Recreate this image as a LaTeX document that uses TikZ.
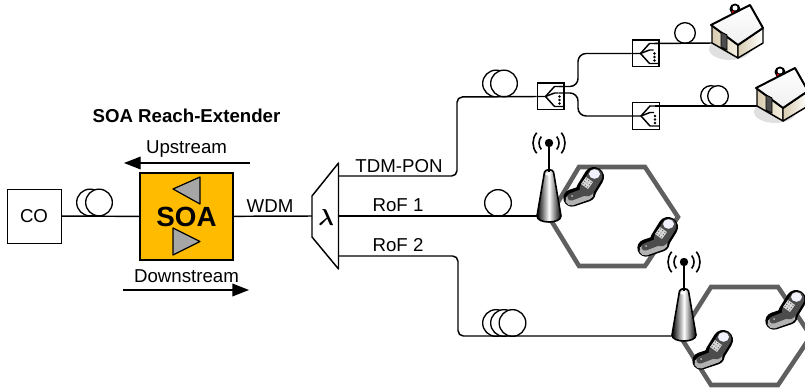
\documentclass[tikz,border=0pt]{standalone}
\usepackage{amsmath}
\usepackage{fontspec}
\setmainfont{Liberation Sans}
\usetikzlibrary{arrows.meta}
\definecolor{soaorange}{HTML}{FFBB00}
\definecolor{hexgray}{HTML}{5F5F5F}
\definecolor{wallbeige}{HTML}{D8CCB0}
\definecolor{wallcream}{HTML}{F6F0E2}

\tikzset{
  fiber/.style={line width=1.1pt, line join=round},
  flow/.style={line width=1pt, -{Triangle[length=12.5pt,width=9.5pt]}},
  label/.style={font=\fontsize{14}{16}\selectfont, inner sep=0pt},
  boxlabel/.style={draw, line width=.7pt, font=\fontsize{14}{16}\selectfont},
  coil/.style={circle, draw, fill=white, line width=1pt, minimum size=20pt, inner sep=0pt},
  smallcoil/.style={coil, minimum size=15.5pt},
  splitbox/.style={draw, line width=1pt, minimum size=20pt, inner sep=0pt},
  hexcell/.style={draw=hexgray, line width=3.4pt, line join=miter},
  house/.pic={
    \fill[black!12] (18,6) ellipse (21 and 11);
    \fill[black] (23,-34) circle (5.5);
    \fill[white] (23,-35) circle (2.5);
    \fill[red!80!black] (21,-31) circle (1.7);
    \draw[line width=1.1pt, line join=round, left color=wallbeige, right color=wallcream]
      (0,-18) -- (26,2) -- (26,15) -- (0,0) -- cycle;
    \draw[line width=1.1pt, line join=round, left color=wallbeige, right color=white]
      (26,2) -- (51,-15) -- (51,0) -- (26,15) -- cycle;
    \draw[line width=1.5pt, line join=round, top color=white, bottom color=black!6]
      (-1,-18) -- (38,-38) -- (51,-15) -- (26,2) -- cycle;
    \draw[line width=.7pt, fill=black!70] (9,-11) -- (15,-8) -- (15,7) -- (9,4) -- cycle;
  },
  antenna/.pic={
    \draw[line width=1.2pt, line join=round, left color=black, right color=black, middle color=white]
      (-4.5,29) -- (-12,73) .. controls (-12,81) and (12,81) .. (12,73) -- (4.5,29) .. controls (4,26) and (-4,26) .. cycle;
    \fill[white] (-1,31) ellipse (2.5 and 1.5);
    \draw[line width=1.7pt] (0,0) -- (0,29);
    \fill (0,0) circle (4.2);
    \foreach \r in {10,16} {
      \draw[line width=1.2pt] (140:\r) arc (140:220:\r);
      \draw[line width=1.2pt] (-40:\r) arc (-40:40:\r);
    }
  },
  phone/.pic={
    % black outline, silver lower part, dark faces
    \draw[line width=15pt, line cap=round] (3,5) -- (11,-8);
    \draw[line width=13pt, line cap=round] (-11,13) -- (4,8);
    \draw[line width=8.5pt, line cap=round, black!30] (-12,15) -- (5,9);
    \draw[line width=5.5pt, line cap=round, black!70] (-12,12) -- (1,7);
    \draw[line width=11pt, line cap=round, black!70] (4,4) -- (12,-9);
    \fill[blue!5] (11.5,-11) ellipse (5.5 and 4.8);
    \fill[black!15] (3,-8) -- (10,-3) -- (5,4) -- (-2,-1) -- cycle;
    \foreach \i in {.17,.5,.83} {
      \foreach \j in {.17,.5,.83} {
        \fill[black!60] ({3+7*\i-5*\j},{-8+5*\i+7*\j}) circle (.7);
      }
    }
    \fill[black!25] (-11,11) circle (1);
  },
}

\begin{document}
\begin{tikzpicture}[x=0.75pt, y=-0.75pt]

  \clip (0,0) rectangle (805,388);

  % Hexagon cells
  \draw[hexcell] (579,167) -- (645,167) -- (678,217) -- (645,266) -- (579,266) -- (549,217) -- cycle;
  \draw[hexcell] (711,287) -- (778,287) -- (811,336) -- (778,385) -- (711,385) -- (680,336) -- cycle;

  % Boxes on the left
  \node[boxlabel, minimum size=40.5pt, inner sep=0pt] (co) at (34,216) {CO};
  \node[draw, line width=1pt, fill=soaorange, minimum width=69.75pt, minimum height=65.25pt, inner sep=0pt, font=\bfseries\fontsize{20.8}{24}\selectfont] (soa) at (186.5,216.5) {SOA};
  \draw[line width=.9pt, fill=black!35, line join=round] (173,189) -- (200,177) -- (200,204) -- cycle;
  \draw[line width=.9pt, fill=black!35, line join=round] (173,228) -- (200,241.5) -- (173,255) -- cycle;

  % Demultiplexer
  \draw[line width=1.1pt, line join=round] (312,196) -- (338.5,163) -- (338.5,269) -- (312,237) -- cycle;
  \coordinate (dmxin) at (312,216);
  \coordinate (dmxa) at (338.5,176);
  \coordinate (dmxb) at (338.5,216);
  \coordinate (dmxc) at (338.5,256);
  \node[inner sep=0pt, font=\fontsize{19}{20}\selectfont] (lam) at (326,217) {$\boldsymbol{\lambda}$};

  % Fibre coils
  \node[coil] (coa) at (90,202.5) {};
  \node[coil] (cob) at (99,202.5) {};
  \node[coil] (coc) at (496,83.5) {};
  \node[coil] (cod) at (504,83.5) {};
  \node[coil] (coe) at (498,203) {};
  \node[coil] (cof) at (496,323) {};
  \node[coil] (cog) at (504,323) {};
  \node[coil] (coh) at (512.5,323) {};
  \node[smallcoil] (coi) at (685,33) {};
  \node[smallcoil] (coj) at (711,96) {};
  \node[smallcoil] (cok) at (718,96) {};

  % Splitters
  \node[splitbox] (spa) at (550.5,96.5) {};
  \node[splitbox] (spb) at (645.5,53.5) {};
  \node[splitbox] (spc) at (646,116) {};
  \foreach \sp in {spa,spb,spc} {
    \draw[fiber] (\sp.west) -- ++(9,0) -- ++(9,-10) -- ++(9,0);
    \draw[fiber] (\sp.west) ++(9,0) -- ++(9,-3.5) -- ++(4,0);
    \draw[fiber] (\sp.west) ++(9,0) -- ++(9,10) -- ++(9,0);
    \foreach \d in {0,3.5,7} {
      \fill ([shift={(23,\d)}]\sp.west) circle (1.4);
    }
  }
  \coordinate (spaa) at (559,86.5);
  \coordinate (spab) at (559,93);
  \coordinate (spba) at (654,43.5);
  \coordinate (spca) at (655,106);

  % Endpoints of the drop fibres
  \coordinate (hsa) at (712,43);
  \coordinate (hsb) at (757,106);
  \coordinate (ana) at (537,216);
  \coordinate (anb) at (672,336);

  % Fibre links
  \draw[fiber] (co) -- (soa);
  \draw[fiber] (soa) -- (dmxin);
  \draw[fiber, rounded corners=4] (dmxa) -- (457,176) -- (457,97) -- (spa.west);
  \draw[fiber] (dmxb) -- (ana);
  \draw[fiber, rounded corners=4] (dmxc) -- (458,256) -- (458,336) -- (anb);
  \draw[fiber, rounded corners=6] (spaa) -- (578,86.5) -- (578,53.5) -- (spb.west);
  \draw[fiber, rounded corners=6] (spab) -- (578,93) -- (578,116) -- (spc.west);
  \draw[fiber] (spba) -- (hsa);
  \draw[fiber] (spca) -- (hsb);

  % Direction arrows
  \coordinate (upa) at (250,163);
  \coordinate (upb) at (124,163);
  \coordinate (dna) at (123,290);
  \coordinate (dnb) at (249,290);
  \draw[flow] (upa) -- (upb);
  \draw[flow] (dna) -- (dnb);

  % Text labels
  \node[label, font=\bfseries\fontsize{14}{16}\selectfont] (ttl) at (186.5,116) {SOA Reach-Extender};
  \node[label] (ups) at (186.5,149) {Upstream};
  \node[label] (dns) at (186.5,276) {Downstream};
  \node[label] (wdm) at (270,206) {WDM};
  \node[label] (tdm) at (399,166) {TDM-PON};
  \node[label] (rfa) at (398,205) {RoF 1};
  \node[label] (rfb) at (398,245) {RoF 2};

  % Houses, masts and handsets
  \pic (hua) at (hsa) {house};
  \pic (hub) at (hsb) {house};
  \pic (msa) at (549,143) {antenna};
  \pic (msb) at (684,262) {antenna};
  \pic (pha) at (583,185) {phone};
  \pic (phb) at (657,235) {phone};
  \pic (phc) at (712,348) {phone};
  \pic (phd) at (785,308) {phone};

\end{tikzpicture}
\end{document}
